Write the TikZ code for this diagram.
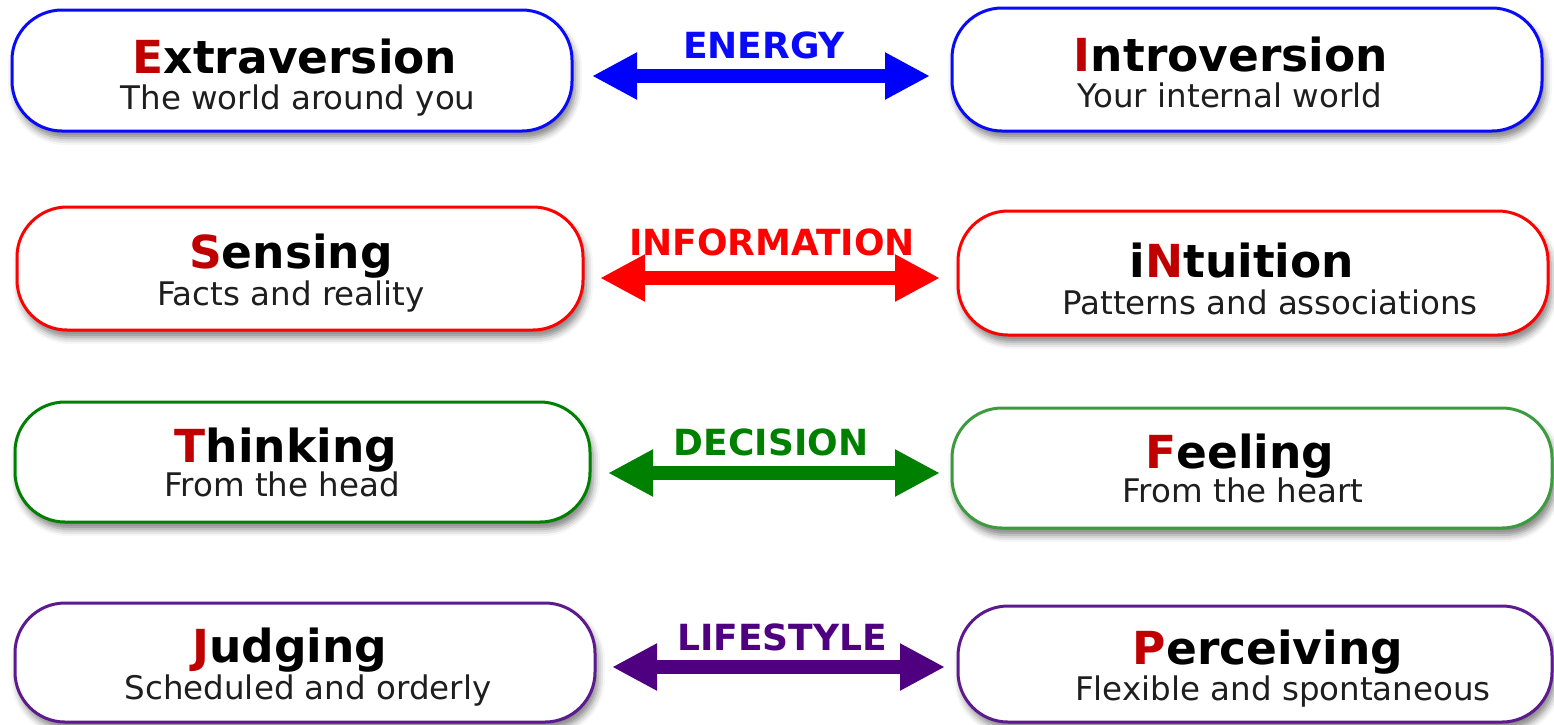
\documentclass[tikz,border=0pt]{standalone}
\usepackage{fontspec}
\setmainfont{DejaVu Sans}
\usetikzlibrary{arrows.meta,shadows.blur}
\definecolor{cBlue}{RGB}{10,10,250}
\definecolor{cRed}{RGB}{255,0,0}
\definecolor{cGreenA}{RGB}{0,128,0}
\definecolor{cGreenB}{RGB}{60,155,60}
\definecolor{cPurB}{RGB}{92,26,142}
\definecolor{cPurA}{RGB}{78,0,128}
\definecolor{cInit}{RGB}{192,0,0}
\definecolor{cSub}{RGB}{30,30,30}
\tikzset{
  pill/.style={draw=#1, line width=3pt, fill=white, rounded corners=50pt,
    inner sep=0pt, blur shadow={shadow xshift=3pt, shadow yshift=-7pt,
    shadow blur radius=7pt, shadow opacity=50}},
  ttl/.style={anchor=base, inner sep=0pt, font=\fontsize{45.5}{50}\selectfont\bfseries},
  sub/.style={anchor=base, inner sep=0pt, text=cSub, font=\fontsize{32.5}{36}\selectfont},
  lbl/.style={anchor=base, inner sep=0pt, text=#1, font=\fontsize{36}{40}\selectfont\bfseries},
  dbl/.style={draw=#1, line width=14pt,
    {Triangle[length=45pt,width=44pt]}-{Triangle[length=45pt,width=44pt]}}
}
\newcommand{\ini}[1]{\textcolor{cInit}{#1}}
\begin{document}
\begin{tikzpicture}[x=1pt,y=-1pt]
\useasboundingbox (0,0) rectangle (1554,724);
% row 1
\node[pill=cBlue, minimum width=560pt, minimum height=121pt] (EX) at (292,70.5) {};
\node[pill=cBlue, minimum width=590pt, minimum height=123pt] (IN) at (1247,69.5) {};
\node[ttl] (EXt) at (295,73) {\ini{E}xtraversion};
\node[sub] (EXs) at (298,109) {The world around you};
\node[ttl] (INt) at (1231,71) {\ini{I}ntroversion};
\node[sub] (INs) at (1230,107) {Your internal world};
\coordinate (a1l) at (592,76); \coordinate (a1r) at (930,76);
\draw[dbl=blue] (a1l) -- (a1r);
\node[lbl=cBlue] (L1) at (764,58) {ENERGY};
% row 2
\node[pill=cRed, minimum width=566pt, minimum height=123pt] (SE) at (300,268.5) {};
\node[pill=cRed, minimum width=590pt, minimum height=124pt] (NI) at (1253,273) {};
\node[ttl] (SEt) at (291,268) {\ini{S}ensing};
\node[sub] (SEs) at (291,305) {Facts and reality};
\node[ttl] (NIt) at (1242,277) {i\ini{N}tuition};
\node[sub] (NIs) at (1270,314) {Patterns and associations};
\coordinate (a2l) at (600,278); \coordinate (a2r) at (940,278);
\draw[dbl=cRed] (a2l) -- (a2r);
\node[lbl=cRed] (L2) at (772,255) {INFORMATION};
% row 3
\node[pill=cGreenA, minimum width=575pt, minimum height=120pt] (TH) at (302.5,462) {};
\node[pill=cGreenB, minimum width=600pt, minimum height=120pt] (FE) at (1252,468) {};
\node[ttl] (THt) at (286,462) {\ini{T}hinking};
\node[sub] (THs) at (282,496) {From the head};
\node[ttl] (FEt) at (1240,468) {\ini{F}eeling};
\node[sub] (FEs) at (1243,502) {From the heart};
\coordinate (a3l) at (608,473); \coordinate (a3r) at (940,473);
\draw[dbl=cGreenA] (a3l) -- (a3r);
\node[lbl=cGreenA] (L3) at (771,455) {DECISION};
% row 4
\node[pill=cPurB, minimum width=580pt, minimum height=119pt] (JU) at (305,662.5) {};
\node[pill=cPurB, minimum width=594pt, minimum height=116pt] (PE) at (1255,664) {};
\node[ttl] (JUt) at (290,662) {\ini{J}udging};
\node[sub] (JUs) at (308,699) {Scheduled and orderly};
\node[ttl] (PEt) at (1268,664) {\ini{P}erceiving};
\node[sub] (PEs) at (1283,700) {Flexible and spontaneous};
\coordinate (a4l) at (612,667); \coordinate (a4r) at (945,667);
\draw[dbl=cPurA] (a4l) -- (a4r);
\node[lbl=cPurA] (L4) at (782,650) {LIFESTYLE};
\end{tikzpicture}
\end{document}
